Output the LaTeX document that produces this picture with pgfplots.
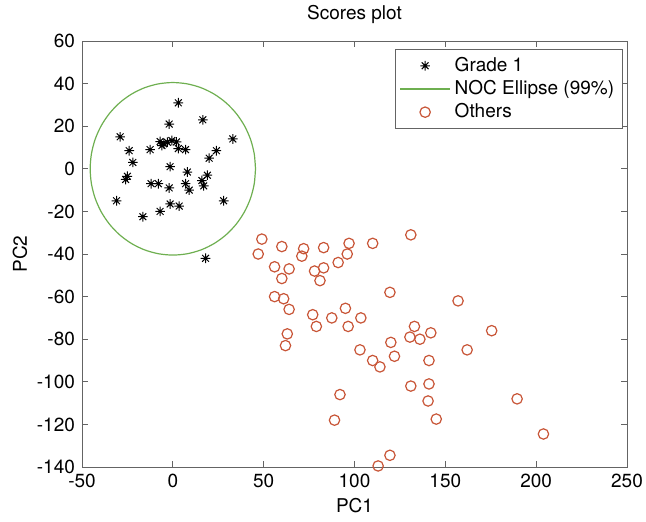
\documentclass[border=0pt]{standalone}
\usepackage{pgfplots}
\pgfplotsset{compat=1.18}
\usepackage{fontspec}
\setmainfont{TeX Gyre Heros}
\definecolor{noc}{RGB}{110,175,80}
\definecolor{oth}{RGB}{200,85,55}
\definecolor{axgray}{RGB}{100,100,100}
\pgfdeclareplotmark{mstar}{%
  \pgfpathmoveto{\pgfqpoint{-\pgfplotmarksize}{0pt}}\pgfpathlineto{\pgfqpoint{\pgfplotmarksize}{0pt}}%
  \pgfpathmoveto{\pgfqpoint{0pt}{-\pgfplotmarksize}}\pgfpathlineto{\pgfqpoint{0pt}{\pgfplotmarksize}}%
  \pgfpathmoveto{\pgfqpoint{-0.707\pgfplotmarksize}{-0.707\pgfplotmarksize}}\pgfpathlineto{\pgfqpoint{0.707\pgfplotmarksize}{0.707\pgfplotmarksize}}%
  \pgfpathmoveto{\pgfqpoint{-0.707\pgfplotmarksize}{0.707\pgfplotmarksize}}\pgfpathlineto{\pgfqpoint{0.707\pgfplotmarksize}{-0.707\pgfplotmarksize}}%
  \pgfusepathqstroke}
\begin{document}
\begin{tikzpicture}
\useasboundingbox (-41pt,-27pt) rectangle (282pt,233.5pt);
\begin{axis}[
  scale only axis,
  width=272.5pt, height=213pt,
  xmin=-50, xmax=250, ymin=-140, ymax=60,
  xtick={-50,0,...,250}, ytick={-140,-120,...,60},
  tick align=inside, major tick length=3pt,
  axis line style={axgray, line width=0.5pt},
  every tick/.style={axgray, line width=0.5pt},
  /pgf/number format/assume math mode=true,
  font=\fontsize{9.5}{11}\selectfont,
  ticklabel style={font=\fontsize{9.5}{11}\selectfont},
  title={Scores plot},
  every axis title/.style={at={(axis description cs:0.5,1.062)}, anchor=center, font=\fontsize{9.5}{11}\selectfont},
  xlabel={PC1},
  xlabel style={at={(axis description cs:0.5,-0.09)}, anchor=center},
  ylabel={PC2},
  ylabel style={at={(axis description cs:-0.114,0.5)}, anchor=center},
  legend style={at={(axis description cs:0.992,0.982)}, anchor=north east,
    draw=axgray, line width=0.5pt, font=\fontsize{9.5}{11}\selectfont,
    row sep=-1pt, inner sep=2pt},
  legend cell align=left,
  legend image code/.code={\draw[mark repeat=2,mark phase=2,#1] plot coordinates {(0pt,0pt) (12.5pt,0pt) (25pt,0pt)};},
]
\addplot[only marks, mark=mstar, mark size=2.4pt, black, line width=0.5pt] coordinates {
(3,31) (16.5,23) (-2,21) (-29,15) (33,14)
(-7,12.8) (-5,11.7) (-0.5,13.3) (2,12.6) (-6,10.9) (-3,12.5)
(3,9.5) (7,9) (-12.5,9) (-24,8.5) (24,8.5) (20,5) (-22,3) (-1.5,1)
(8,-1.5) (19,-3) (-25,-3.5) (-26,-5) (16,-5.5) (17,-8) (-12,-7) (-8,-7)
(7,-7) (-2,-9) (9,-10) (-31,-15) (28,-15) (-1.5,-16.5) (3.5,-17.5)
(-7,-20) (-16.5,-22.5) (18,-42)
};
\addlegendentry{Grade 1}
\addplot[noc, line width=0.6pt, smooth, mark=none] coordinates {
(45.5,0) (44.81,7.03) (42.76,13.85) (39.40,20.25) (34.85,26.03) (29.25,31.02) (22.75,35.07) (15.56,38.06) (7.90,39.88) (0,40.5)
(-7.90,39.88) (-15.56,38.06) (-22.75,35.07) (-29.25,31.02) (-34.85,26.03) (-39.40,20.25) (-42.76,13.85) (-44.81,7.03) (-45.5,0)
(-44.81,-7.03) (-42.76,-13.85) (-39.40,-20.25) (-34.85,-26.03) (-29.25,-31.02) (-22.75,-35.07) (-15.56,-38.06) (-7.90,-39.88) (0,-40.5)
(7.90,-39.88) (15.56,-38.06) (22.75,-35.07) (29.25,-31.02) (34.85,-26.03) (39.40,-20.25) (42.76,-13.85) (44.81,-7.03) (45.5,0)
};
\addlegendentry{NOC Ellipse (99\%)}
\addplot[only marks, mark=o, mark size=2.6pt, oth, line width=0.6pt] coordinates {
(49,-33) (47,-40) (60,-36.5) (72,-37.5) (71,-41) (83,-37) (97,-35) (110,-35) (131,-31)
(96,-40) (91,-44) (56,-46) (64,-47) (60,-51.5) (78,-48) (83,-46.5) (81,-52.5) (119.5,-58)
(56,-60) (61,-61) (64,-66) (77,-68.5) (87.5,-70) (95,-65.5) (103.5,-70) (79,-74) (96.5,-74)
(63,-77.5) (62,-83) (133,-74) (130.5,-79) (120,-81.5) (103,-85) (122,-88) (110,-90) (114,-93)
(131,-102) (92,-106) (157,-62) (136,-80) (142,-77) (175.5,-76) (162,-85) (141,-90) (141,-101)
(140.5,-109) (189.5,-108) (89,-118) (145,-117.5) (204,-124.5) (119.5,-134.5) (113,-139.5)
};
\addlegendentry{Others}
\end{axis}
\end{tikzpicture}
\end{document}
